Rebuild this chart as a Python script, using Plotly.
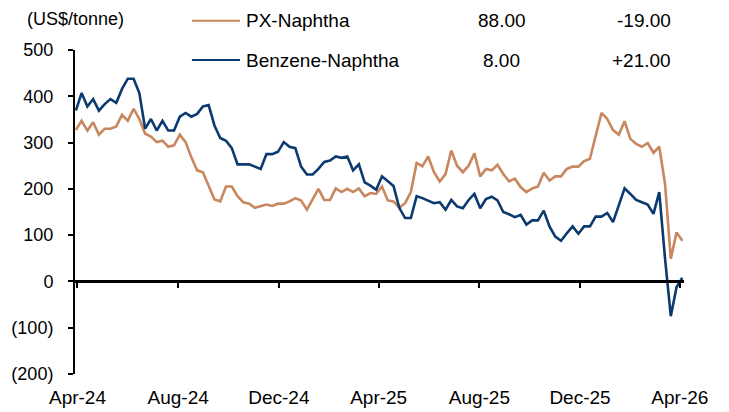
import pandas as pd
import plotly.graph_objects as go

# ---- data (US$/tonne), weekly ----
start_date = "2024-03-30"
px_naphtha = [327, 347, 326, 344, 317, 330, 330, 335, 360, 347, 373, 351, 319, 313, 301, 304, 291, 294, 317, 301,
              268, 240, 236, 208, 177, 173, 205, 205, 184, 171, 168, 159, 163, 166, 163, 168, 168, 173, 180, 175,
              155, 178, 200, 176, 176, 201, 193, 200, 193, 201, 184, 191, 189, 205, 175, 173, 159, 169, 193, 256,
              249, 270, 236, 216, 232, 283, 250, 236, 250, 277, 227, 243, 240, 252, 232, 216, 222, 204, 193, 201,
              205, 235, 218, 227, 227, 243, 248, 248, 260, 265, 313, 364, 351, 327, 317, 346, 308, 297, 291, 299,
              278, 291, 211, 49, 106, 88]
benzene_naphtha = [369, 407, 378, 394, 369, 383, 394, 386, 416, 438, 438, 407, 330, 351, 326, 347, 326, 326, 356, 364,
                   356, 362, 378, 381, 337, 310, 304, 288, 253, 253, 253, 248, 243, 275, 275, 280, 301, 291, 288, 248,
                   231, 231, 243, 258, 261, 270, 267, 270, 240, 253, 214, 207, 198, 227, 216, 206, 159, 137, 137, 184,
                   180, 175, 169, 171, 155, 176, 162, 158, 176, 189, 158, 178, 183, 175, 150, 145, 139, 144, 123, 132,
                   132, 153, 119, 97, 88, 104, 119, 103, 119, 119, 140, 140, 148, 128, 163, 201, 189, 176, 171, 166,
                   146, 193, 50, -75, -12, 8]
series_names = ["PX-Naphtha", "Benzene-Naphtha"]
latest_values = ["88.00", "8.00"]
changes = ["-19.00", "+21.00"]
y_tick_vals = [-200, -100, 0, 100, 200, 300, 400, 500]
y_tick_text = ["(200)", "(100)", "0", "100", "200", "300", "400", "500"]
x_tick_dates = ["2024-04-01", "2024-08-01", "2024-12-01", "2025-04-01", "2025-08-01", "2025-12-01", "2026-04-01"]
x_tick_text = ["Apr-24", "Aug-24", "Dec-24", "Apr-25", "Aug-25", "Dec-25", "Apr-26"]
unit_label = "(US$/tonne)"

dates = pd.date_range(start_date, periods=len(px_naphtha), freq="7D")

ORANGE = "#C8875E"
BLUE = "#0B3A6F"
FONT = "Liberation Sans, Arial, sans-serif"
FS = 19

fig = go.Figure()
fig.add_trace(go.Scatter(x=dates, y=px_naphtha, mode="lines", name=series_names[0],
                         line=dict(color=ORANGE, width=2.6), showlegend=False))
fig.add_trace(go.Scatter(x=dates, y=benzene_naphtha, mode="lines", name=series_names[1],
                         line=dict(color=BLUE, width=2.6), showlegend=False, xaxis="x2"))

x_range = [pd.Timestamp(start_date) - pd.Timedelta(days=1), dates[-1] + pd.Timedelta(days=2)]

# page body has an 8px margin, so the figure is 8px smaller and margins shifted
fig.update_layout(
    width=721, height=404,
    margin=dict(l=67, r=45, t=42, b=38),
    paper_bgcolor="white", plot_bgcolor="white",
    font=dict(family=FONT, size=FS, color="black"),
    xaxis=dict(type="date", range=x_range, tickvals=x_tick_dates, ticktext=x_tick_text,
               showgrid=False, zeroline=False, showline=False, ticks="", automargin=False,
               ticklabelstandoff=10, tickfont=dict(size=FS)),
    xaxis2=dict(type="date", range=x_range, overlaying="x", anchor="free", automargin=False,
                position=200 / 700, tickvals=x_tick_dates, showticklabels=False,
                showgrid=False, zeroline=False, showline=True, linecolor="black", linewidth=2.5,
                ticks="outside", ticklen=5, tickwidth=2, tickcolor="black"),
    yaxis=dict(range=[-200, 500], tickvals=y_tick_vals, ticktext=y_tick_text, automargin=False,
               showgrid=False, zeroline=False, showline=True, linecolor="black", linewidth=2,
               ticks="outside", ticklen=5, tickwidth=2, tickcolor="black",
               ticklabelstandoff=11, tickfont=dict(size=18)),
)

# unit label
fig.add_annotation(text=unit_label, xref="paper", yref="paper", x=-0.082, y=1.096,
                   xanchor="left", yanchor="middle", showarrow=False, font=dict(size=18))

# custom legend with latest values and changes
legend_rows = [(1.090, ORANGE), (0.969, BLUE)]
for (ly, col), name, val, chg in zip(legend_rows, series_names, latest_values, changes):
    fig.add_shape(type="line", xref="paper", yref="paper", x0=0.192, x1=0.271, y0=ly, y1=ly,
                  line=dict(color=col, width=2))
    fig.add_annotation(text=name, xref="paper", yref="paper", x=0.278, y=ly,
                       xanchor="left", yanchor="middle", showarrow=False, font=dict(size=FS))
    fig.add_annotation(text=val, xref="paper", yref="paper", x=0.701, y=ly,
                       xanchor="center", yanchor="middle", showarrow=False, font=dict(size=FS))
    fig.add_annotation(text=chg, xref="paper", yref="paper", x=0.982, y=ly,
                       xanchor="right", yanchor="middle", showarrow=False, font=dict(size=FS))

fig.write_html("out.html")
